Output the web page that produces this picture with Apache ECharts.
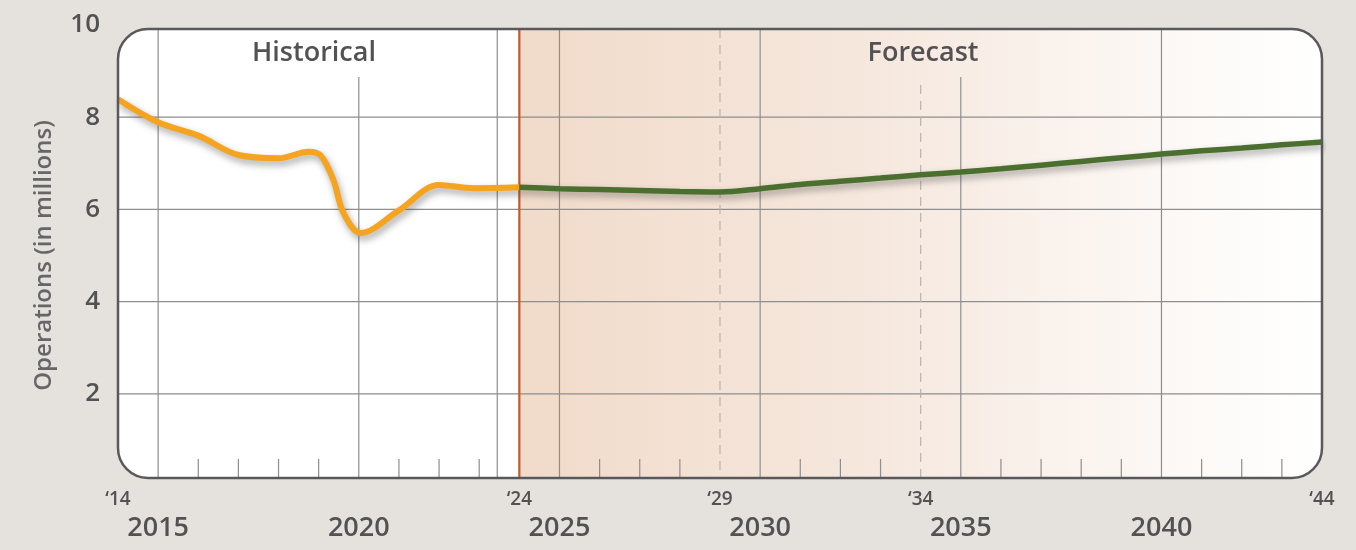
<!DOCTYPE html>
<html>
<head>
<meta charset="utf-8">
<script src="https://cdn.jsdelivr.net/npm/echarts@6/dist/echarts.min.js"></script>
<style>
  html, body { margin: 0; padding: 0; background: #e5e2dd; }
  #chart { width: 1356px; height: 550px; }
</style>
</head>
<body>
<div id="chart"></div>
<script>
// Annual aircraft operations, millions
const historicalYears = [2014, 2015, 2016, 2017, 2018, 2018.75, 2019.05, 2019.37, 2019.62, 2020.05, 2021, 2022, 2022.85, 2024];
const historicalOps   = [8.39, 7.89, 7.60, 7.18, 7.11, 7.25, 7.17, 6.63, 5.92, 5.49, 5.98, 6.53, 6.46, 6.48];

const forecastYears = [2024, 2025, 2026, 2027, 2028, 2029, 2030, 2031, 2032, 2033, 2034,
                       2035, 2036, 2037, 2038, 2039, 2040, 2041, 2042, 2043, 2044];
const forecastOps   = [6.48, 6.45, 6.43, 6.41, 6.39, 6.38, 6.45, 6.54, 6.61, 6.68, 6.75,
                       6.81, 6.88, 6.96, 7.04, 7.12, 7.20, 7.27, 7.33, 7.40, 7.46];

// Axis labels
const yTicks = [2, 4, 6, 8, 10];
const yearLabels = [2015, 2020, 2025, 2030, 2035, 2040];
const shortYearLabels = [2014, 2024, 2029, 2034, 2044];

// Vertical rules and year ticks
const fullRules = [2015, 2023.45, 2025, 2030, 2040];
const shortRules = [2020, 2035];
const dashedRules = [2029, 2034];
const yearTicks = [2016, 2017, 2018, 2019, 2021, 2022, 2023, 2026, 2027, 2028, 2031, 2032, 2033,
                   2036, 2037, 2038, 2039, 2041, 2042, 2043];
const forecastStart = 2024;
const xMin = 2014, xMax = 2044;

const FONT = '"Open Sans", "Noto Sans", sans-serif';
const TEXT = '#525254';
const RULE = '#8e8e8e';
const GRID = { left: 118, right: 34, top: 25, bottom: 64 };
const BOX_TOP = 29, BOX_BOTTOM = 478, RADIUS = 30;

const zip = (xs, ys) => xs.map((x, i) => [x, ys[i]]);
const lineShadow = { shadowColor: 'rgba(60,60,60,0.45)', shadowBlur: 7, shadowOffsetX: 2, shadowOffsetY: 4 };

const chart = echarts.init(document.getElementById('chart'));

const hiddenAxisParts = {
  axisLine: { show: false }, axisTick: { show: false }, splitLine: { show: false }
};

chart.setOption({
  backgroundColor: '#e5e2dd',
  animation: false,
  grid: GRID,
  xAxis: [
    Object.assign({
      type: 'value', min: xMin, max: xMax, position: 'bottom',
      axisLabel: {
        customValues: yearLabels, margin: 29, fontSize: 27, fontWeight: 600,
        color: TEXT, fontFamily: FONT, formatter: v => String(v)
      }
    }, hiddenAxisParts),
    Object.assign({
      type: 'value', min: xMin, max: xMax, position: 'bottom',
      axisLabel: {
        customValues: shortYearLabels, margin: 4, fontSize: 19, fontWeight: 600,
        color: TEXT, fontFamily: FONT, formatter: v => '\u2018' + String(v).slice(2)
      }
    }, hiddenAxisParts)
  ],
  yAxis: Object.assign({
    type: 'value', min: 0, max: 10, interval: 2,
    name: 'Operations (in millions)', nameLocation: 'middle', nameGap: 62,
    nameTextStyle: { fontSize: 24, fontWeight: 600, color: '#666668', fontFamily: FONT },
    axisLabel: {
      margin: 18, fontSize: 26, fontWeight: 600, color: TEXT, fontFamily: FONT,
      formatter: v => (yTicks.includes(v) ? String(v) : '')
    }
  }, hiddenAxisParts),
  series: [
    {
      name: 'Historical', type: 'line', xAxisIndex: 0, z: 5,
      data: zip(historicalYears, historicalOps),
      smooth: 0.35, showSymbol: false,
      lineStyle: Object.assign({ color: '#f5a41f', width: 6 }, lineShadow)
    },
    {
      name: 'Forecast', type: 'line', xAxisIndex: 0, z: 5,
      data: zip(forecastYears, forecastOps),
      smooth: 0.3, showSymbol: false,
      lineStyle: Object.assign({ color: '#4b6f2e', width: 5.5 }, lineShadow)
    }
  ]
});

// Frame, shading, rules and ticks placed through the axis scales
const xPx = v => chart.convertToPixel({ xAxisIndex: 0 }, v);
const yPx = v => chart.convertToPixel({ yAxisIndex: 0 }, v);
const left = xPx(xMin), right = xPx(xMax);
const vline = (x, y1, y2, style, z) => ({
  type: 'line', z: z, silent: true,
  shape: { x1: x, y1: y1, x2: x, y2: y2 }, style: style
});
const ruleStyle = { stroke: RULE, lineWidth: 1.2 };

const elements = [];
elements.push({
  type: 'rect', z: 0, silent: true,
  shape: { x: left, y: BOX_TOP, width: right - left, height: BOX_BOTTOM - BOX_TOP, r: RADIUS },
  style: { fill: '#ffffff' }
});
const fx = xPx(forecastStart);
elements.push({
  type: 'rect', z: 1, silent: true,
  shape: { x: fx, y: BOX_TOP, width: right - fx, height: BOX_BOTTOM - BOX_TOP, r: [0, RADIUS, RADIUS, 0] },
  style: {
    fill: new echarts.graphic.LinearGradient(0, 0, 1, 0, [
      { offset: 0, color: '#f1dbca' },
      { offset: 0.45, color: '#f6e8de' },
      { offset: 0.8, color: '#fcf8f5' },
      { offset: 1, color: '#ffffff' }
    ])
  }
});
yTicks.filter(v => v < 10).forEach(v => {
  const y = yPx(v);
  elements.push({
    type: 'line', z: 2, silent: true,
    shape: { x1: left, y1: y, x2: right, y2: y }, style: ruleStyle
  });
});
fullRules.forEach(v => elements.push(vline(xPx(v), BOX_TOP, BOX_BOTTOM, ruleStyle, 2)));
shortRules.forEach(v => elements.push(vline(xPx(v), 77, BOX_BOTTOM, ruleStyle, 2)));
dashedRules.forEach((v, i) => elements.push(vline(xPx(v), i === 0 ? BOX_TOP : 85, BOX_BOTTOM,
  { stroke: '#b4b4b4', lineWidth: 1.2, lineDash: [9, 7] }, 2)));
yearTicks.forEach(v => elements.push(vline(xPx(v), BOX_BOTTOM - 19, BOX_BOTTOM, ruleStyle, 2)));
elements.push(vline(fx, BOX_TOP, BOX_BOTTOM, { stroke: '#c45a2c', lineWidth: 2.2 }, 3));
elements.push({
  type: 'rect', z: 20, silent: true,
  shape: { x: left, y: BOX_TOP, width: right - left, height: BOX_BOTTOM - BOX_TOP, r: RADIUS },
  style: { fill: null, stroke: '#59595b', lineWidth: 2.5 }
});
[['Historical', 314], ['Forecast', 923]].forEach(([t, x]) => elements.push({
  type: 'text', z: 21, silent: true, x: x, y: 53,
  style: { text: t, fill: TEXT, font: '600 27px ' + FONT, textAlign: 'center', textVerticalAlign: 'middle' }
}));

chart.setOption({ graphic: { elements: elements } });
</script>
</body>
</html>
